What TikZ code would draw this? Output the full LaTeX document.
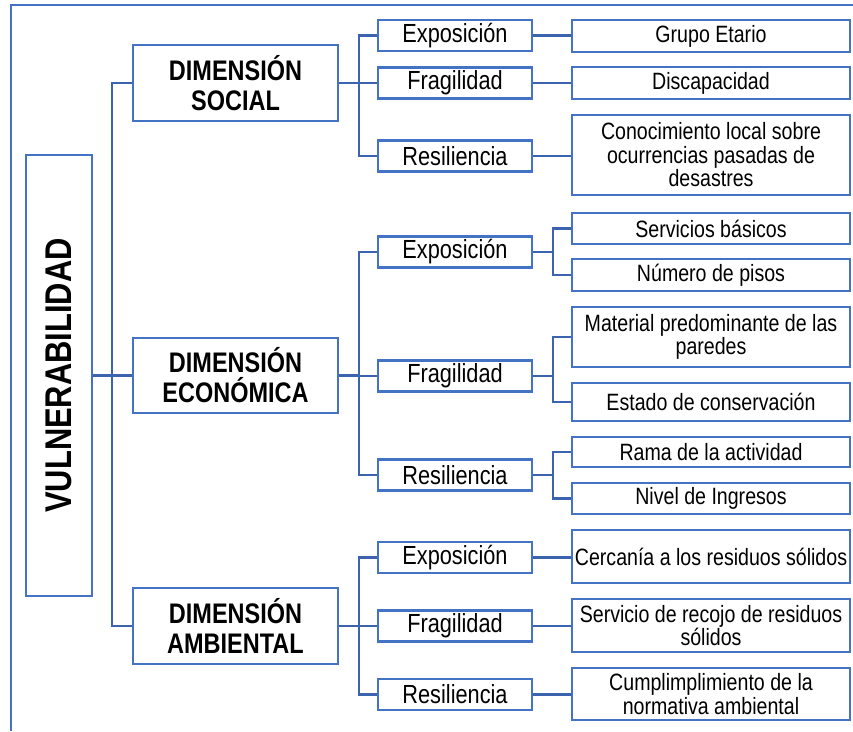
\documentclass[tikz,border=0pt]{standalone}
\usepackage{graphicx}
\usepackage{fontspec}
\setmainfont{Liberation Sans}[FakeStretch=0.83]

\definecolor{boxblue}{HTML}{4472C4}
\definecolor{wireblue}{HTML}{3C64AE}

\tikzset{
  box/.style={draw=boxblue, line width=2.2pt, fill=white, inner sep=0pt, align=center},
  rootbox/.style={box, minimum width=66pt, minimum height=441pt},
  dimbox/.style={box, minimum width=205pt, minimum height=76pt,
    font=\bfseries\fontsize{28.3}{30}\selectfont},
  kindbox/.style={box, minimum width=154pt, minimum height=31pt,
    font=\fontsize{26.2}{28}\selectfont},
  leafbox/.style={box, minimum width=278pt,
    font=\fontsize{23.6}{23.5}\selectfont},
  wire/.style={draw=wireblue, line width=2.2pt},
  frameline/.style={draw=boxblue, line width=1.6pt}
}

\begin{document}
\begin{tikzpicture}[x=1pt, y=-1pt]
\useasboundingbox (0,0) rectangle (853,731);

% outer frame (open at right and bottom)
\draw[frameline] (11,731) -- (11,5) -- (853,5);

% root
\node[rootbox] (vuln) at (59,375.5)
  {\rotatebox{90}{\bfseries\fontsize{37.2}{40}\selectfont VULNERABILIDAD}};

% dimensions
\node[dimbox] (dimS) at (235.5,83)    {DIMENSIÓN\\SOCIAL};
\node[dimbox, minimum height=75pt] (dimE) at (235.5,375.5) {DIMENSIÓN\\ECONÓMICA};
\node[dimbox] (dimA) at (235.5,626)   {DIMENSIÓN\\AMBIENTAL};

% social branch
\node[kindbox] (expS) at (455,35.5) {Exposición};
\node[kindbox] (fraS) at (455,83)   {Fragilidad};
\node[kindbox] (resS) at (455,156)  {Resiliencia};
\node[leafbox, minimum height=32pt] (grupo)  at (711,36)  {Grupo Etario};
\node[leafbox, minimum height=32pt] (discap) at (711,83)  {Discapacidad};
\node[leafbox, minimum height=80pt] (conoc)  at (711,155)
  {Conocimiento local sobre\\ocurrencias pasadas de\\desastres};

% economic branch
\node[kindbox] (expE) at (455,252) {Exposición};
\node[kindbox] (fraE) at (455,376) {Fragilidad};
\node[kindbox] (resE) at (455,475) {Resiliencia};
\node[leafbox, minimum height=31pt] (serv)   at (711,228.5) {Servicios básicos};
\node[leafbox, minimum height=32pt] (pisos)  at (711,275)   {Número de pisos};
\node[leafbox, minimum height=60pt] (mater)  at (711,337)   {Material predominante de las\\paredes};
\node[leafbox, minimum height=38pt] (estado) at (711,402)   {Estado de conservación};
\node[leafbox, minimum height=30pt] (rama)   at (711,452)   {Rama de la actividad};
\node[leafbox, minimum height=31pt] (nivel)  at (711,498.5) {Nivel de Ingresos};

% environmental branch
\node[kindbox] (expA) at (455,557.5) {Exposición};
\node[kindbox] (fraA) at (455,626)   {Fragilidad};
\node[kindbox] (resA) at (455,694.5) {Resiliencia};
\node[leafbox, minimum height=53pt] (cerca)  at (711,556.5) {Cercanía a los residuos sólidos};
\node[leafbox, minimum height=53pt] (recojo) at (711,625.5) {Servicio de recojo de residuos\\sólidos};
\node[leafbox, minimum height=52pt] (cumpl)  at (711,694)   {Cumplimplimiento de la\\normativa ambiental};

% root to dimensions
\coordinate (rootfork) at (112,375.5);
\draw[wire] (vuln.east) -- (rootfork);
\draw[wire] (rootfork) |- (dimS.west);
\draw[wire] (rootfork) -- (dimE.west);
\draw[wire] (rootfork) |- (dimA.west);

% dimensions to kinds
\foreach \d/\a/\b/\c in {dimS/expS/fraS/resS, dimE/expE/fraE/resE, dimA/expA/fraA/resA}{
  \draw[wire] (\d.east) -- ++(20,0) |- (\a.west);
  \draw[wire] (\d.east) -- ++(20,0) |- (\b.west);
  \draw[wire] (\d.east) -- ++(20,0) |- (\c.west);
}

% kinds to indicators
\draw[wire] (expS.east) -- (expS.east -| grupo.west);
\draw[wire] (fraS.east) -- (fraS.east -| discap.west);
\draw[wire] (resS.east) -- (resS.east -| conoc.west);

\draw[wire] (expE.east) -- ++(20,0) |- (serv.west);
\draw[wire] (expE.east) -- ++(20,0) |- (pisos.west);
\draw[wire] (fraE.east) -- ++(20,0) |- (mater.west);
\draw[wire] (fraE.east) -- ++(20,0) |- (estado.west);
\draw[wire] (resE.east) -- ++(20,0) |- (rama.west);
\draw[wire] (resE.east) -- ++(20,0) |- (nivel.west);

\draw[wire] (expA.east) -- (expA.east -| cerca.west);
\draw[wire] (fraA.east) -- (fraA.east -| recojo.west);
\draw[wire] (resA.east) -- (resA.east -| cumpl.west);
\end{tikzpicture}
\end{document}
